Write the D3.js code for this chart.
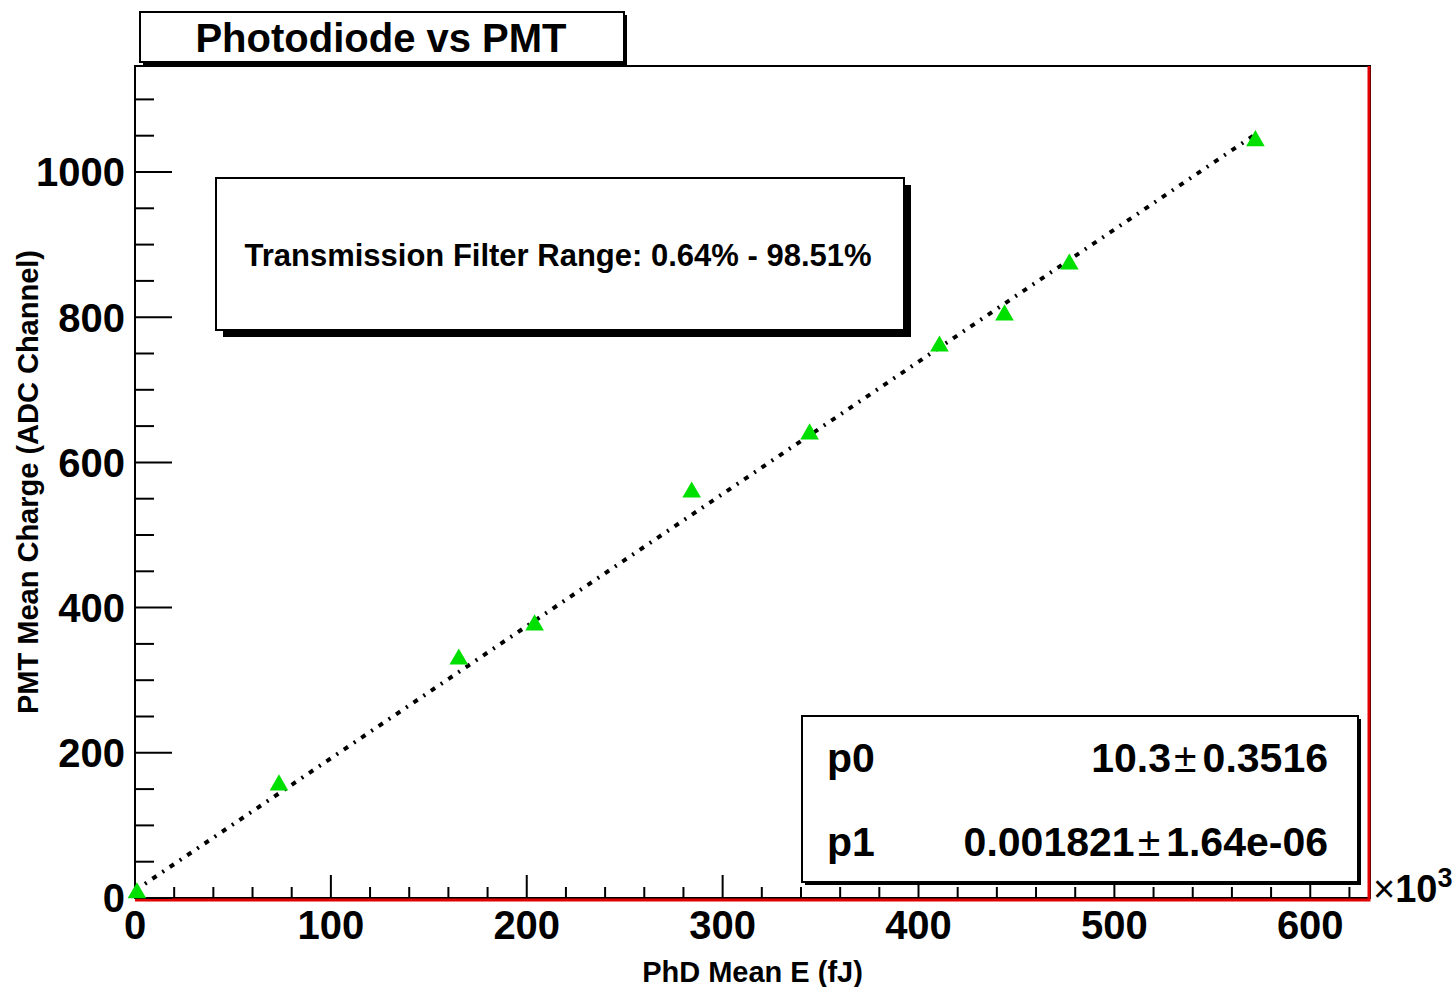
<!DOCTYPE html>
<html>
<head>
<meta charset="utf-8">
<script src="https://cdn.jsdelivr.net/npm/d3@7"></script>
<style>
  body { margin: 0; background: #fff; }
  svg { display: block; font-family: "Liberation Sans", Arial, sans-serif; font-weight: bold; }
</style>
</head>
<body>
<div id="chart"></div>
<script>
// PhD mean energy (x, in units of 10^3 fJ) vs PMT mean charge (ADC channel)
var phdMeanE = [1, 73.5, 165.3, 204, 284.2, 344.4, 410.7, 443.9, 477, 572];
var pmtCharge = [7, 155.6, 329, 376, 559, 639, 760, 803, 873, 1043];

// linear fit result
var fitP0 = 10.3;
var fitP1 = 0.001821;   // per fJ, x axis is x10^3
var fitRange = [0, 572];
var fitLabels = [["p0", "10.3", "0.3516"], ["p1", "0.001821", "1.64e-06"]];

var xTicks = [0, 100, 200, 300, 400, 500, 600];
var yTicks = [0, 200, 400, 600, 800, 1000];

var W = 1455, H = 987;
var margin = {left: 135, right: 85, top: 66, bottom: 89};

var svg = d3.select("#chart").append("svg")
  .attr("width", W)
  .attr("height", H);

var x = d3.scaleLinear()
  .domain([0, 630.5])
  .range([margin.left, W - margin.right]);

var y = d3.scaleLinear()
  .domain([0, 1146])
  .range([H - margin.bottom, margin.top]);

////////////
// FRAME  //
////////////

svg.append("rect")
  .attr("x", x(0)).attr("y", y(1146))
  .attr("width", x(630.5) - x(0))
  .attr("height", y(0) - y(1146))
  .attr("fill", "none")
  .attr("stroke", "#000")
  .attr("stroke-width", 2);

// red lines on bottom and right edge of frame
svg.append("path")
  .attr("d", "M" + x(0) + "," + (y(0) + 2) + "H" + (x(630.5) - 1) + "V" + y(1146))
  .attr("fill", "none")
  .attr("stroke", "#e00000")
  .attr("stroke-width", 3);

//////////
// AXES //
//////////

var gx = svg.append("g")
  .attr("transform", "translate(0," + y(0) + ")");

gx.selectAll(".minor")
  .data(d3.range(0, 631, 20))
  .enter().append("line")
  .attr("x1", (d) => x(d)).attr("x2", (d) => x(d))
  .attr("y1", 0)
  .attr("y2", (d) => d % 100 === 0 ? -23 : -11)
  .attr("stroke", "#000")
  .attr("stroke-width", 2);

gx.selectAll(".lbl")
  .data(xTicks)
  .enter().append("text")
  .attr("x", (d) => x(d))
  .attr("y", 41)
  .attr("text-anchor", "middle")
  .attr("font-size", 40)
  .text((d) => d);

var gy = svg.append("g")
  .attr("transform", "translate(" + x(0) + ",0)");

gy.selectAll(".minor")
  .data(d3.range(0, 1146, 50))
  .enter().append("line")
  .attr("y1", (d) => y(d)).attr("y2", (d) => y(d))
  .attr("x1", 0)
  .attr("x2", (d) => d % 200 === 0 ? 37 : 19)
  .attr("stroke", "#000")
  .attr("stroke-width", 2);

gy.selectAll(".lbl")
  .data(yTicks)
  .enter().append("text")
  .attr("x", -10)
  .attr("y", (d) => y(d))
  .attr("dy", "0.36em")
  .attr("text-anchor", "end")
  .attr("font-size", 40)
  .text((d) => d);

// x10^3 exponent
var expo = svg.append("text")
  .attr("x", 1373)
  .attr("y", 902)
  .attr("font-size", 38);
expo.append("tspan").attr("font-weight", "normal").text("\u00d7");
expo.append("tspan").text("10");
expo.append("tspan").attr("font-size", 27).attr("dy", -15).text("3");

// axis titles
svg.append("text")
  .attr("x", (x(0) + x(630.5)) / 2)
  .attr("y", 982)
  .attr("text-anchor", "middle")
  .attr("font-size", 29)
  .text("PhD Mean E (fJ)");

svg.append("text")
  .attr("transform", "translate(38," + ((y(0) + y(1146)) / 2) + ") rotate(-90)")
  .attr("text-anchor", "middle")
  .attr("font-size", 29)
  .text("PMT Mean Charge (ADC Channel)");

//////////////
// FIT LINE //
//////////////

svg.append("line")
  .attr("x1", x(fitRange[0])).attr("y1", y(fitP0 + fitP1 * fitRange[0] * 1000))
  .attr("x2", x(fitRange[1])).attr("y2", y(fitP0 + fitP1 * fitRange[1] * 1000))
  .attr("stroke", "#000")
  .attr("stroke-width", 4)
  .attr("stroke-dasharray", "5,7,2,7");

////////////
// POINTS //
////////////

var tri = d3.symbol().type(d3.symbolTriangle).size(150);

svg.selectAll(".pt")
  .data(phdMeanE.map((d, i) => ({x: d, y: pmtCharge[i]})))
  .enter().append("path")
  .attr("d", tri)
  .attr("transform", (d) => "translate(" + x(d.x) + "," + y(d.y) + ")")
  .attr("fill", "#00e000");

///////////
// BOXES //
///////////

function box(x0, y0, w, h, sh) {
  svg.append("rect")
    .attr("x", x0 + sh).attr("y", y0 + sh)
    .attr("width", w).attr("height", h)
    .attr("fill", "#000");
  svg.append("rect")
    .attr("x", x0).attr("y", y0)
    .attr("width", w).attr("height", h)
    .attr("fill", "#fff")
    .attr("stroke", "#000")
    .attr("stroke-width", 2);
}

// title
box(140, 12, 484, 50, 3);
svg.append("text")
  .attr("x", 381).attr("y", 52)
  .attr("text-anchor", "middle")
  .attr("font-size", 40)
  .text("Photodiode vs PMT");

// filter range text box
box(216, 178, 688, 152, 7);
svg.append("text")
  .attr("x", 558).attr("y", 266)
  .attr("text-anchor", "middle")
  .attr("font-size", 31)
  .text("Transmission Filter Range: 0.64% - 98.51%");

// fit stats box
box(802, 716, 556, 166, 3);
fitLabels.forEach((p, i) => {
  var by = 772 + i * 84;
  svg.append("text")
    .attr("x", 827).attr("y", by)
    .attr("font-size", 41)
    .text(p[0]);
  var t = svg.append("text")
    .attr("x", 1328).attr("y", by)
    .attr("text-anchor", "end")
    .attr("font-size", 41);
  t.append("tspan").text(p[1]);
  t.append("tspan").attr("font-weight", "normal").attr("dx", 3).text("\u00b1");
  t.append("tspan").attr("dx", 6).text(p[2]);
});
</script>
</body>
</html>
